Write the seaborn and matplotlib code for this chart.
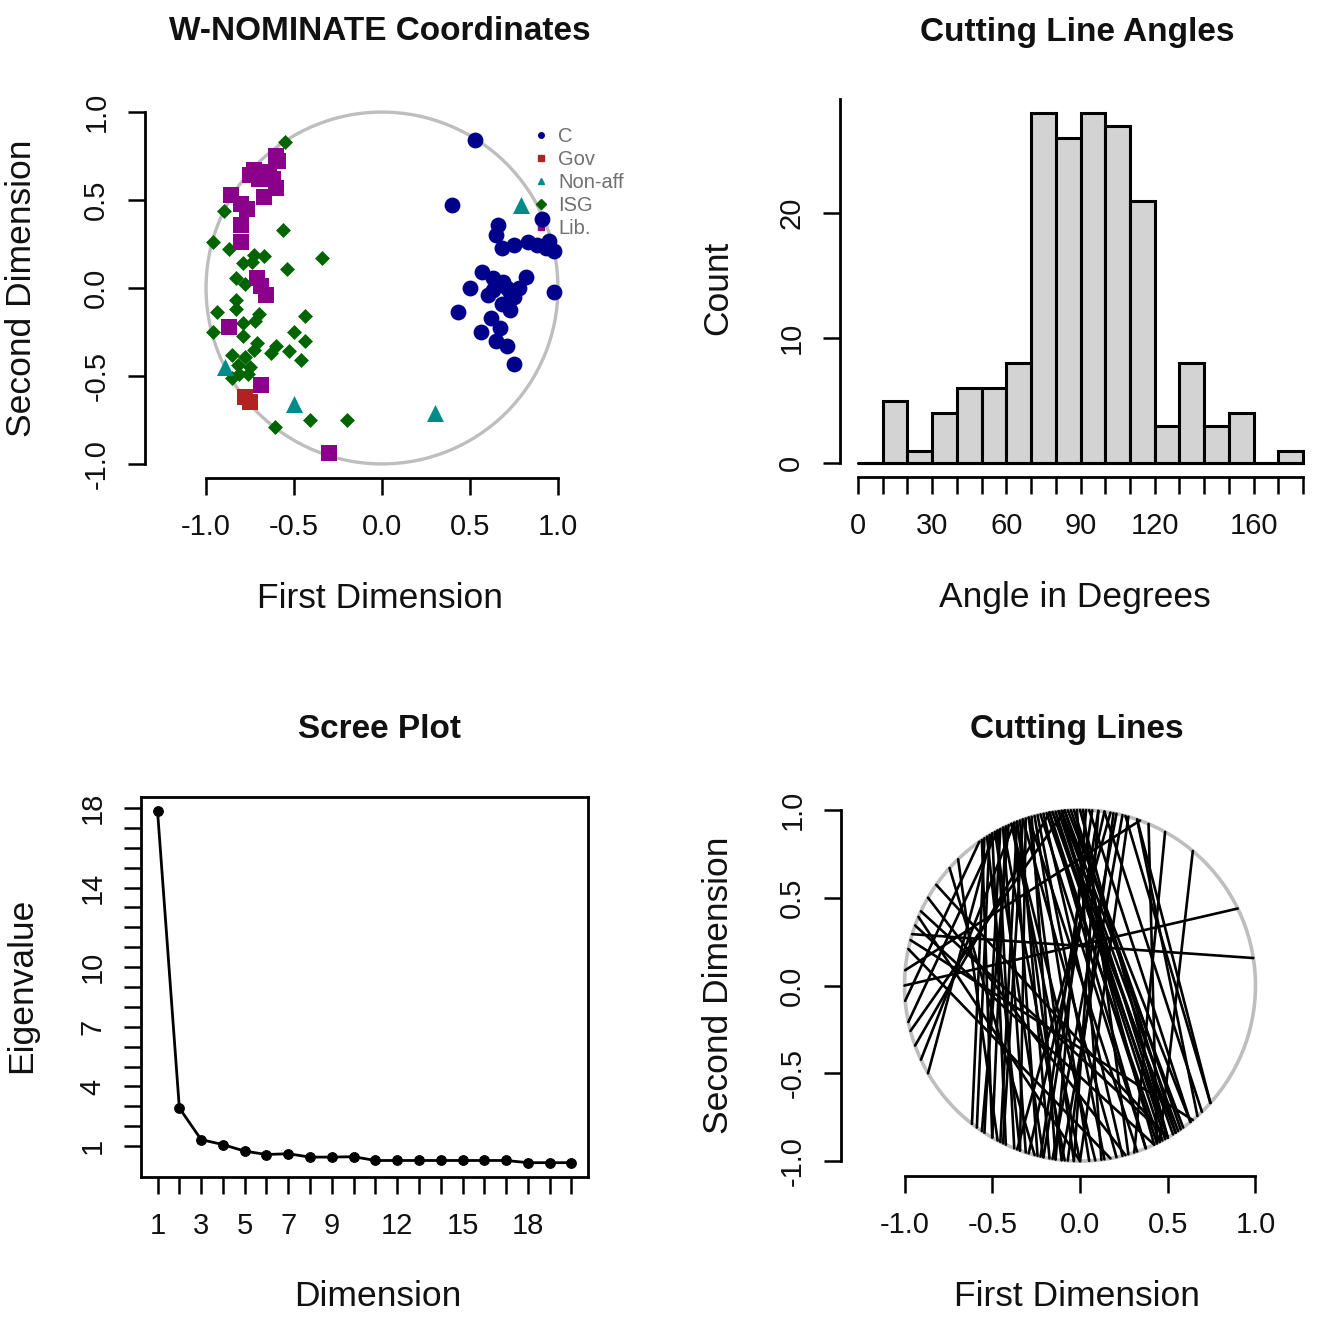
import numpy as np
import pandas as pd
import seaborn as sns
import matplotlib
matplotlib.use("Agg")
import matplotlib.pyplot as plt
from matplotlib.patches import Circle
from matplotlib.lines import Line2D

# ---- W-NOMINATE coordinates, one pair of lists per group ----
c_x = [0.53, 0.40, 0.91, 0.66, 0.65, 0.68, 0.75, 0.83, 0.88, 0.95, 0.98, 0.93, 0.57, 0.63, 0.69,
       0.82, 0.50, 0.63, 0.73, 0.98, 0.68, 0.75, 0.73, 0.43, 0.62, 0.56, 0.67, 0.65, 0.71, 0.75,
       0.71, 0.78, 0.60]
c_y = [0.84, 0.47, 0.39, 0.36, 0.30, 0.23, 0.245, 0.26, 0.245, 0.27, 0.21, 0.23, 0.09, 0.055, 0.036,
       0.065, 0.0, -0.01, -0.02, -0.02, -0.09, -0.05, -0.125, -0.135, -0.17, -0.25, -0.23, -0.30, -0.33, -0.43,
       0.0, 0.0, -0.04]
gov_x = [-0.78, -0.75]
gov_y = [-0.62, -0.65]
nonaff_x = [0.79, -0.50, -0.89, 0.30]
nonaff_y = [0.47, -0.66, -0.45, -0.71]
isg_x = [-0.55, -0.90, -0.56, -0.96, -0.87, -0.73, -0.67, -0.79, -0.74, -0.34,
         -0.54, -0.83, -0.78, -0.83, -0.83, -0.94, -0.70, -0.44, -0.72, -0.79,
         -0.96, -0.79, -0.50, -0.44, -0.71, -0.60, -0.73, -0.53, -0.63, -0.85,
         -0.78, -0.46, -0.82, -0.75, -0.81, -0.76, -0.85, -0.41, -0.20, -0.61]
isg_y = [0.83, 0.44, 0.33, 0.26, 0.22, 0.19, 0.18, 0.14, 0.15, 0.17,
         0.11, 0.055, 0.02, -0.07, -0.12, -0.135, -0.145, -0.16, -0.19, -0.20,
         -0.25, -0.27, -0.25, -0.30, -0.31, -0.33, -0.35, -0.36, -0.37, -0.38,
         -0.39, -0.41, -0.44, -0.45, -0.49, -0.49, -0.51, -0.75, -0.75, -0.79]
lib_x = [-0.60, -0.59, -0.73, -0.75, -0.62, -0.60, -0.67, -0.86, -0.80, -0.77,
         -0.80, -0.80, -0.71, -0.69, -0.66, -0.87, -0.69, -0.30, -0.70, -0.64]
lib_y = [0.75, 0.72, 0.67, 0.64, 0.62, 0.57, 0.52, 0.53, 0.48, 0.45,
         0.36, 0.26, 0.055, 0.01, -0.04, -0.22, -0.55, -0.94, 0.62, 0.66]

party_names = ["C", "Gov", "Non-aff", "ISG", "Lib."]
party_colors = {"C": "#00008B", "Gov": "#B22222", "Non-aff": "#008B8B",
                "ISG": "#006400", "Lib.": "#8B008B"}
party_markers = {"C": "o", "Gov": "s", "Non-aff": "^", "ISG": "D", "Lib.": "s"}
party_sizes = {"C": 130, "Gov": 135, "Non-aff": 150, "ISG": 58, "Lib.": 135}

# ---- cutting line angles histogram ----
angle_edges = list(range(0, 190, 10))
angle_counts = [0, 5, 1, 4, 6, 6, 8, 28, 26, 28, 27, 21, 3, 8, 3, 4, 0, 1]

# ---- scree plot ----
dims = list(range(1, 21))
eigenvalues = [17.83, 2.92, 1.33, 1.08, 0.75, 0.58, 0.62, 0.45, 0.45, 0.47,
               0.28, 0.28, 0.28, 0.28, 0.28, 0.28, 0.28, 0.17, 0.17, 0.17]

# ---- cutting lines: the two points where each line meets the unit circle (degrees) ----
cut_a1 = [100, 99, 97, 96, 95, 93, 98, 94,
          82, 78, 76, 86, 80,
          123, 121, 117, 115, 111, 120, 114,
          111, 107, 105, 104, 109, 107, 102,
          87, 82, 75, 71, 71, 50, 61, 67,
          150, 160, 168, 157, 145,
          200, 192, 185, 175, 205,
          163, 180, 134, 138, 91, 89, 84, 103,
          101, 99, 97, 95, 92, 90, 100, 96,
          118, 116, 112, 110, 108, 106, 113,
          84, 79, 88, 74,
          155, 165, 195, 210,
          122, 119, 116, 124, 113, 109]
cut_a2 = [296, 300, 302, 304, 300, 305, 298, 309,
          253, 261, 264, 257, 249,
          232, 234, 237, 240, 243, 245, 236,
          264, 268, 273, 278, 282, 289, 284,
          309, 314, 318, 312, 318, 297, 288, 296,
          285, 295, 280, 270, 300,
          100, 118, 125, 70, 112,
          9, 26, 242, 255, 277, 286, 268, 292,
          297, 303, 299, 306, 303, 300, 292, 295,
          248, 252, 256, 260, 250, 262, 270,
          258, 266, 262, 270,
          300, 310, 95, 120,
          250, 258, 265, 240, 275, 244]

sns.set_style("white")
plt.rcParams["font.family"] = ["Liberation Sans", "DejaVu Sans"]
plt.rcParams["axes.unicode_minus"] = False
plt.rcParams["text.color"] = "#111111"

W, H = 1325, 1329
fig = plt.figure(figsize=(W / 100, H / 100), dpi=100)


def px_axes(left, top, right, bottom):
    return fig.add_axes([left / W, 1 - bottom / H, (right - left) / W, (bottom - top) / H])


def ftext(x, y, s, **kw):
    fig.text(x / W, 1 - y / H, s, ha="center", va="center", color="#111111", **kw)


def style_axes(ax, box=False):
    for side in ["top", "right", "left", "bottom"]:
        ax.spines[side].set_visible(box or side in ("left", "bottom"))
        ax.spines[side].set_linewidth(2.0)
        ax.spines[side].set_color("black")
    ax.tick_params(direction="out", length=12, width=1.8, pad=13, labelsize=21,
                   colors="black", labelcolor="#111111", left=True, bottom=True)
    ax.tick_params(axis="y", labelrotation=90)
    for lbl in ax.get_yticklabels():
        lbl.set_va("center")
    ax.set_xlabel("")
    ax.set_ylabel("")


dim_ticks = [-1.0, -0.5, 0.0, 0.5, 1.0]
dim_labels = ["-1.0", "-0.5", "0.0", "0.5", "1.0"]

# ---------------- top-left: coordinates ----------------
ax1 = px_axes(145, 98, 619, 478)
ax1.add_patch(Circle((0, 0), 1, fill=False, edgecolor="#BEBEBE", linewidth=2.4, zorder=1))
groups = {"C": (c_x, c_y), "Gov": (gov_x, gov_y), "Non-aff": (nonaff_x, nonaff_y),
          "ISG": (isg_x, isg_y), "Lib.": (lib_x, lib_y)}
for name in ["ISG", "Non-aff", "Lib.", "Gov", "C"]:
    gx, gy = groups[name]
    df = pd.DataFrame({"x": gx, "y": gy})
    sns.scatterplot(data=df, x="x", y="y", color=party_colors[name], marker=party_markers[name],
                    s=party_sizes[name], linewidth=0, ax=ax1, zorder=3)
ax1.set_xlim(-1.347, 1.347)
ax1.set_ylim(-1.08, 1.08)
ax1.set_xticks(dim_ticks, dim_labels)
ax1.set_yticks(dim_ticks, dim_labels)
style_axes(ax1)
ax1.spines["left"].set_bounds(-1, 1)
ax1.spines["bottom"].set_bounds(-1, 1)
handles = [Line2D([], [], linestyle="none", marker=party_markers[n], color=party_colors[n],
                  markersize=5 if n != "C" else 4) for n in party_names]
leg = ax1.legend(handles, party_names, loc="upper left", bbox_to_anchor=(0.80, 0.95),
                 frameon=False, fontsize=14.5, labelcolor="#707070", handlelength=0.7,
                 handletextpad=0.5, labelspacing=0.2, borderpad=0)
leg.set_zorder(2)

# ---------------- top-right: histogram ----------------
ax2 = px_axes(840, 99, 1321, 477)
bin_mids = [e + 5 for e in angle_edges[:-1]]
sns.histplot(x=bin_mids, weights=angle_counts, bins=angle_edges, color="#D3D3D3",
             edgecolor="black", linewidth=2.2, alpha=1, ax=ax2)
ax2.plot([angle_edges[0], angle_edges[-1]], [0, 0], color="black", linewidth=2.2)
ax2.set_xlim(-7.2, 187.2)
ax2.set_ylim(-1.12, 29.12)
ax2.set_xticks(angle_edges, [str(e) if e in (0, 30, 60, 90, 120, 160) else "" for e in angle_edges])
ax2.set_yticks([0, 10, 20], ["0", "10", "20"])
style_axes(ax2)
ax2.spines["left"].set_bounds(0, 29.12)
ax2.spines["bottom"].set_bounds(0, 180)

# ---------------- bottom-left: scree plot ----------------
ax3 = px_axes(141, 797, 588, 1177)
sns.lineplot(x=dims, y=eigenvalues, color="black", linewidth=2, marker="o", markersize=7,
             markeredgecolor="black", ax=ax3)
ax3.set_xlim(0.24, 20.76)
ax3.set_ylim(-0.55, 18.55)
ax3.set_xticks(dims, [str(d) if d in (1, 3, 5, 7, 9, 12, 15, 18) else "" for d in dims])
ax3.set_yticks(list(range(1, 19)), [str(v) if v in (1, 4, 7, 10, 14, 18) else "" for v in range(1, 19)])
style_axes(ax3, box=True)

# ---------------- bottom-right: cutting lines ----------------
ax4 = px_axes(841, 795, 1319, 1176)
ax4.add_patch(Circle((0, 0), 1, fill=False, edgecolor="#BEBEBE", linewidth=2.6, zorder=1))
rows = []
for i, (a1, a2) in enumerate(zip(cut_a1, cut_a2)):
    for a in (a1, a2):
        rows.append({"line": i, "x": np.cos(np.radians(a)), "y": np.sin(np.radians(a))})
cut_df = pd.DataFrame(rows)
sns.lineplot(data=cut_df, x="x", y="y", units="line", estimator=None, sort=False,
             color="black", linewidth=1.9, ax=ax4, zorder=2)
ax4.set_xlim(-1.362, 1.362)
ax4.set_ylim(-1.085, 1.085)
ax4.set_xticks(dim_ticks, dim_labels)
ax4.set_yticks(dim_ticks, dim_labels)
style_axes(ax4)
ax4.spines["left"].set_bounds(-1, 1)
ax4.spines["bottom"].set_bounds(-1, 1)

# ---------------- titles and axis labels ----------------
title_kw = dict(fontsize=24, fontweight="bold")
ftext(380, 32, "W-NOMINATE Coordinates", **title_kw)
ftext(1077, 32, "Cutting Line Angles", **title_kw)
ftext(380, 729, "Scree Plot", **title_kw)
ftext(1077, 729, "Cutting Lines", **title_kw)

lab_kw = dict(fontsize=25.5)
ftext(380, 598, "First Dimension", **lab_kw)
ftext(22, 288, "Second Dimension", rotation=90, **lab_kw)
ftext(1075, 598, "Angle in Degrees", **lab_kw)
ftext(718, 288, "Count", rotation=90, **lab_kw)
ftext(378, 1296, "Dimension", **lab_kw)
ftext(22, 985, "Eigenvalue", rotation=90, **lab_kw)
ftext(1077, 1296, "First Dimension", **lab_kw)
ftext(718, 985, "Second Dimension", rotation=90, **lab_kw)

fig.savefig("out.png", dpi=100)
